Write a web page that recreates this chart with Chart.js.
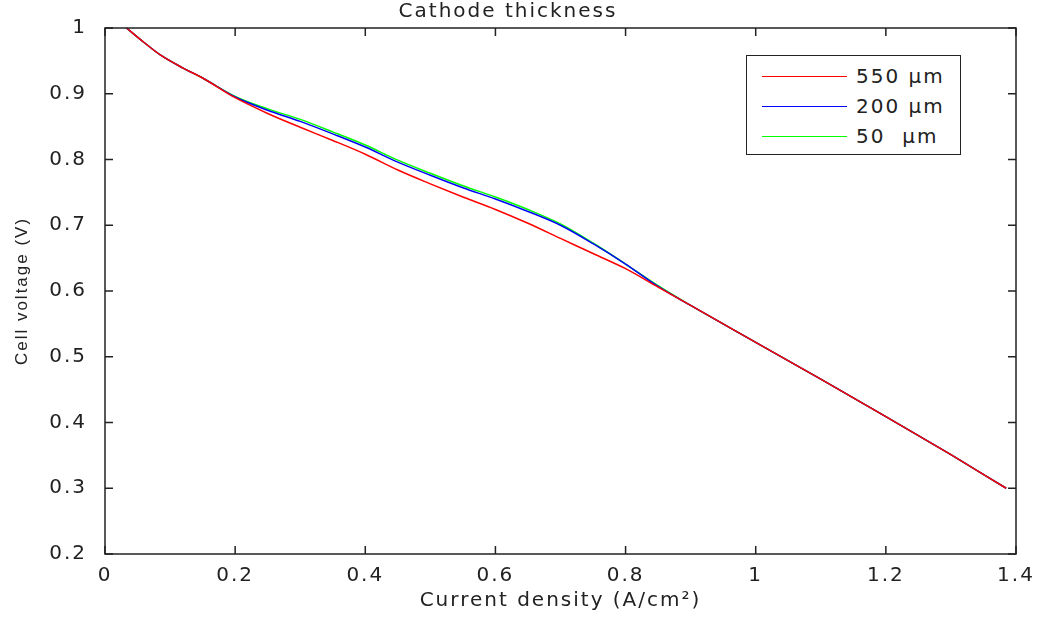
<!DOCTYPE html>
<html>
<head>
<meta charset="utf-8">
<script src="https://cdn.jsdelivr.net/npm/chart.js@4/dist/chart.umd.min.js"></script>
<style>
    html, body { margin: 0; padding: 0; background: #fff; }
    #wrap { position: relative; width: 1037px; height: 618px; }
    #legend {
        position: absolute; left: 746px; top: 55px; width: 213px; height: 93px;
        border: 1.5px solid #222; background: #fff; padding-top: 5px; box-sizing: content-box;
        font-family: "DejaVu Sans", sans-serif; font-size: 20px; letter-spacing: 2px; color: #222;
    }
    #legend .row { display: flex; align-items: center; height: 30px; }
    #legend .line { display: inline-block; width: 85px; height: 0; border-top: 1.5px solid; margin-left: 15px; margin-right: 9px; }
</style>
</head>
<body>
<div id="wrap">
    <canvas id="voltageChart" width="1037" height="618"></canvas>
    <div id="legend"></div>
</div>
<script>
// current density (A/cm2) shared by all curves
const currentDensity = [0.033, 0.06, 0.085, 0.12, 0.15, 0.2, 0.25, 0.3, 0.35, 0.4, 0.45, 0.5, 0.55,
    0.6, 0.65, 0.7, 0.75, 0.8, 0.85, 0.9, 1.0, 1.1, 1.2, 1.3, 1.385];

// cell voltage (V) for each cathode thickness
const voltage550 = [1.000, 0.978, 0.959, 0.939, 0.924, 0.894, 0.870, 0.849, 0.829, 0.808, 0.784, 0.763, 0.743,
    0.724, 0.703, 0.680, 0.657, 0.634, 0.606, 0.578, 0.522, 0.466, 0.409, 0.351, 0.300];
const voltage200 = [1.000, 0.978, 0.959, 0.939, 0.924, 0.895, 0.875, 0.858, 0.839, 0.819, 0.796, 0.776, 0.757,
    0.740, 0.721, 0.700, 0.672, 0.641, 0.607, 0.578, 0.522, 0.466, 0.409, 0.351, 0.300];
const voltage50 = [1.000, 0.978, 0.959, 0.939, 0.924, 0.896, 0.877, 0.861, 0.842, 0.822, 0.799, 0.779, 0.760,
    0.743, 0.724, 0.702, 0.673, 0.641, 0.608, 0.578, 0.522, 0.466, 0.409, 0.351, 0.300];

const seriesLabels = ['550 \u00b5m', '200 \u00b5m', '50  \u00b5m'];
const seriesColors = ['#ff0000', '#0000ff', '#00ff00'];

const xTicks = [0, 0.2, 0.4, 0.6, 0.8, 1.0, 1.2, 1.4];
const xTickLabels = ['0', '0.2', '0.4', '0.6', '0.8', '1', '1.2', '1.4'];
const yTicks = [0.2, 0.3, 0.4, 0.5, 0.6, 0.7, 0.8, 0.9, 1.0];
const yTickLabels = ['0.2', '0.3', '0.4', '0.5', '0.6', '0.7', '0.8', '0.9', '1'];

const FONT = '"DejaVu Sans", sans-serif';

function toPoints(ys) {
    return currentDensity.map((x, i) => ({ x: x, y: ys[i] }));
}

// spaced out lettering like the reference
const spacingPlugin = {
    id: 'spacing',
    beforeLayout(chart) { chart.ctx.letterSpacing = '2px'; },
    beforeDraw(chart) { chart.ctx.letterSpacing = '2px'; }
};

// matlab style box with inward ticks on all four sides
const boxPlugin = {
    id: 'box',
    afterDraw(chart) {
        const { ctx, chartArea: a, scales } = chart;
        const len = 8;
        ctx.save();
        ctx.strokeStyle = '#222';
        ctx.lineWidth = 1.5;
        ctx.strokeRect(a.left, a.top, a.right - a.left, a.bottom - a.top);
        ctx.beginPath();
        xTicks.forEach(v => {
            const px = scales.x.getPixelForValue(v);
            ctx.moveTo(px, a.bottom); ctx.lineTo(px, a.bottom - len);
            ctx.moveTo(px, a.top); ctx.lineTo(px, a.top + len);
        });
        yTicks.forEach(v => {
            const py = scales.y.getPixelForValue(v);
            ctx.moveTo(a.left, py); ctx.lineTo(a.left + len, py);
            ctx.moveTo(a.right, py); ctx.lineTo(a.right - len, py);
        });
        ctx.stroke();
        ctx.restore();
    }
};

const datasets = [voltage550, voltage200, voltage50].map((ys, i) => ({
    label: seriesLabels[i],
    data: toPoints(ys),
    borderColor: seriesColors[i],
    borderWidth: 1.5,
    pointRadius: 0,
    cubicInterpolationMode: 'monotone',
    fill: false
}));

new Chart(document.getElementById('voltageChart').getContext('2d'), {
    type: 'line',
    data: { datasets: datasets },
    plugins: [spacingPlugin, boxPlugin],
    options: {
        responsive: false,
        animation: false,
        layout: { padding: { left: 0, right: 21, top: 0, bottom: 0 } },
        plugins: {
            legend: { display: false },
            tooltip: { enabled: false },
            title: {
                display: true,
                text: 'Cathode thickness',
                color: '#222',
                font: { family: FONT, size: 20, weight: 'normal' },
                padding: { top: 0, bottom: 4 }
            }
        },
        scales: {
            x: {
                type: 'linear',
                min: 0,
                max: 1.4,
                afterFit(scale) {
                    scale.height = 64;
                    scale.paddingLeft = 0;
                    scale.paddingRight = 0;
                },
                afterBuildTicks(scale) { scale.ticks = xTicks.map(v => ({ value: v })); },
                grid: { display: false },
                border: { display: false },
                ticks: {
                    padding: 2,
                    color: '#222',
                    font: { family: FONT, size: 20 },
                    callback: (v, i) => xTickLabels[i]
                },
                title: {
                    display: true,
                    text: 'Current density (A/cm\u00b2)',
                    color: '#222',
                    font: { family: FONT, size: 20 },
                    padding: { top: 0, bottom: 5 }
                }
            },
            y: {
                type: 'linear',
                min: 0.2,
                max: 1,
                afterFit(scale) {
                    scale.width = 105;
                    scale.paddingTop = 0;
                    scale.paddingBottom = 0;
                },
                afterBuildTicks(scale) { scale.ticks = yTicks.map(v => ({ value: v })); },
                grid: { display: false },
                border: { display: false },
                ticks: {
                    padding: 10,
                    color: '#222',
                    font: { family: FONT, size: 20 },
                    callback: (v, i) => yTickLabels[i]
                },
                title: {
                    display: true,
                    text: 'Cell voltage (V)',
                    color: '#222',
                    font: { family: '"Liberation Sans Narrow", "Liberation Sans", sans-serif', size: 17 },
                    padding: { top: 12, bottom: 0 }
                }
            }
        }
    }
});

// legend box built from the series
const legendEl = document.getElementById('legend');
seriesLabels.forEach((label, i) => {
    const row = document.createElement('div');
    row.className = 'row';
    const line = document.createElement('span');
    line.className = 'line';
    line.style.borderTopColor = seriesColors[i];
    const text = document.createElement('span');
    text.style.whiteSpace = 'pre';
    text.textContent = label;
    row.appendChild(line);
    row.appendChild(text);
    legendEl.appendChild(row);
});
</script>
</body>
</html>
